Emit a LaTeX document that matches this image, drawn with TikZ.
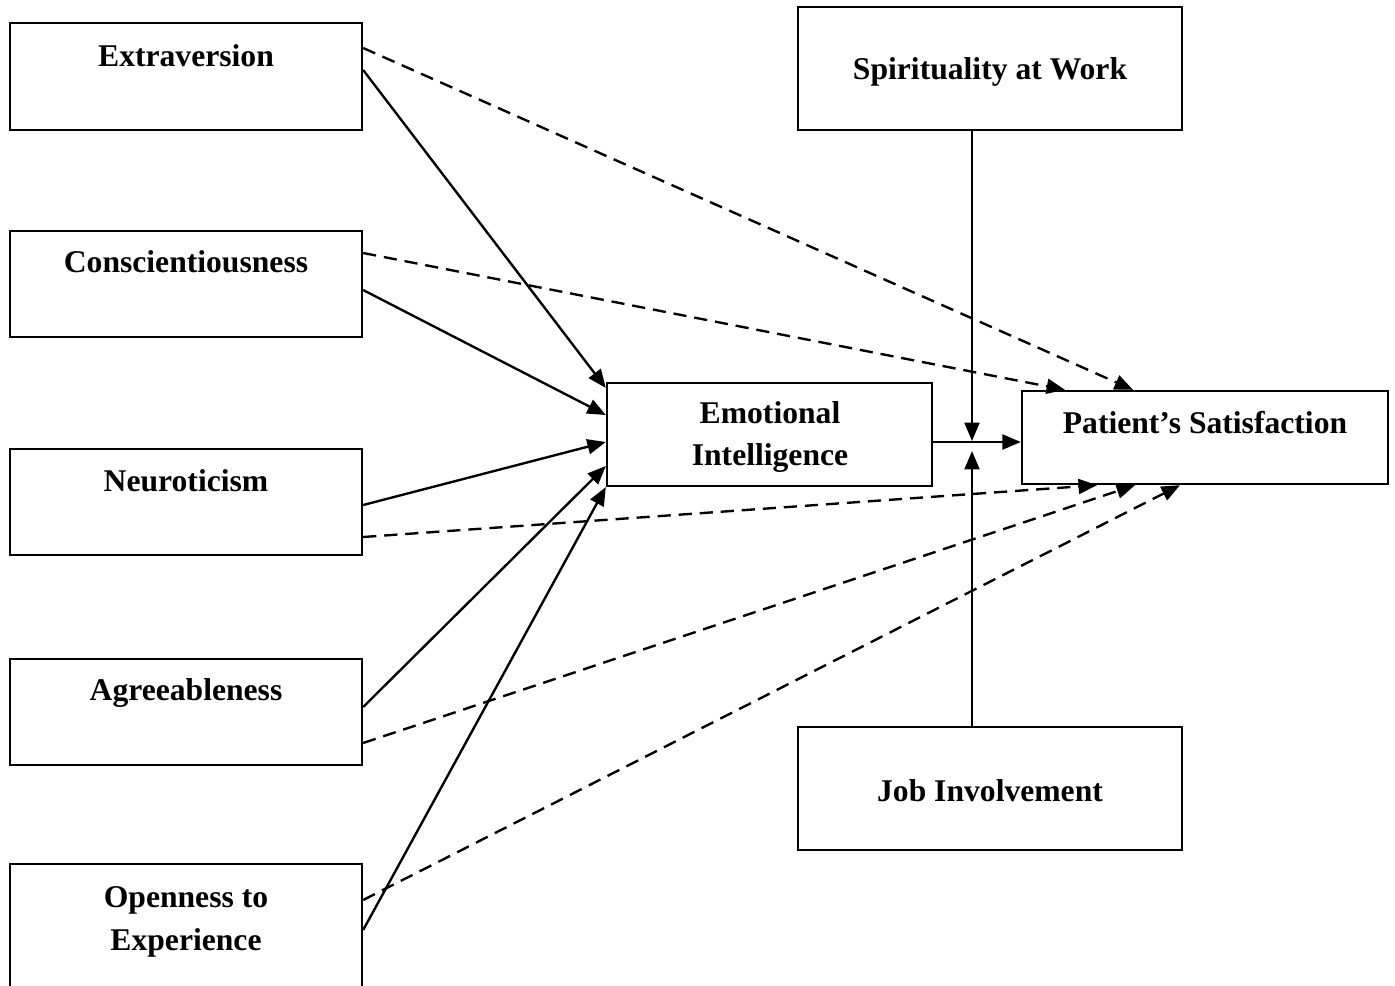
\documentclass[tikz,border=0pt]{standalone}
\usepackage{fontspec}
\setmainfont{Liberation Serif}
\usetikzlibrary{arrows.meta}
\begin{document}
\begin{tikzpicture}[x=0.02cm,y=-0.02cm,line width=1.35pt,
  box/.style={draw,line width=1.35pt,inner sep=0pt,minimum width=7.04cm},
  lbl/.style={font=\fontsize{18}{24.4}\selectfont\bfseries,align=center,inner sep=0pt},
  sol/.style={-{Triangle[length=10.5pt,width=8.5pt]}},
  dsh/.style={sol,dash pattern=on 7.5pt off 4.5pt}]
\useasboundingbox (0,0) rectangle (1395,985);
\clip (0,0) rectangle (1395,985);
% boxes
\node[box,minimum height=2.14cm] (ext) at (186,76.5) {};
\node[box,minimum height=2.12cm] (con) at (186,284) {};
\node[box,minimum height=2.12cm] (neu) at (186,502) {};
\node[box,minimum height=2.12cm] (agr) at (186,712) {};
\node[box,minimum height=2.92cm] (ope) at (186,937) {};
\node[box,minimum width=6.5cm,minimum height=2.06cm] (ei) at (769.5,434.5) {};
\node[box,minimum width=7.32cm,minimum height=1.86cm] (ps) at (1205,437.5) {};
\node[box,minimum width=7.68cm,minimum height=2.46cm] (spi) at (990,68.5) {};
\node[box,minimum width=7.68cm,minimum height=2.46cm] (job) at (990,788.5) {};
% labels
\node[lbl] (text) at (186,56) {Extraversion};
\node[lbl] (tcon) at (186,262) {Conscientiousness};
\node[lbl] (tneu) at (186,481) {Neuroticism};
\node[lbl] (tagr) at (186,693) {Agreeableness};
\node[lbl] (tope) at (186,922) {Openness to\\Experience};
\node[lbl] (tei) at (770,437) {Emotional\\Intelligence};
\node[lbl] (tps) at (1205,423) {Patient’s Satisfaction};
\node[lbl] (tspi) at (990,72) {Spirituality at Work};
\node[lbl] (tjob) at (990,791) {Job Involvement};
% junction points
\coordinate (jn) at (972,441);
\coordinate (jn2) at (972,451);
% solid arrows to EI
\draw[sol] (ext.east |- 0,70) -- (ei.west |- 0,388);
\draw[sol] (con.east |- 0,290) -- (ei.west |- 0,415);
\draw[sol] (neu.east |- 0,505) -- (ei.west |- 0,442);
\draw[sol] (agr.east |- 0,707) -- (ei.west |- 0,466);
\draw[sol] (ope.east |- 0,930) -- (ei.west |- 0,487);
% EI to PS and moderators
\draw[sol] (ei.east |- 0,442) -- (ps.west |- 0,442);
\draw[sol] (spi.south -| jn) -- (jn);
\draw[sol] (job.north -| jn2) -- (jn2);
% dashed direct effects
\draw[dsh] (ext.east |- 0,48) -- (ps.north -| 1133,0);
\draw[dsh] (con.east |- 0,253) -- (ps.north -| 1065,0);
\draw[dsh] (neu.east |- 0,537) -- (ps.south -| 1097,0);
\draw[dsh] (agr.east |- 0,743) -- (ps.south -| 1135,0);
\draw[dsh] (ope.east |- 0,900) -- (ps.south -| 1180,0);
\end{tikzpicture}
\end{document}
